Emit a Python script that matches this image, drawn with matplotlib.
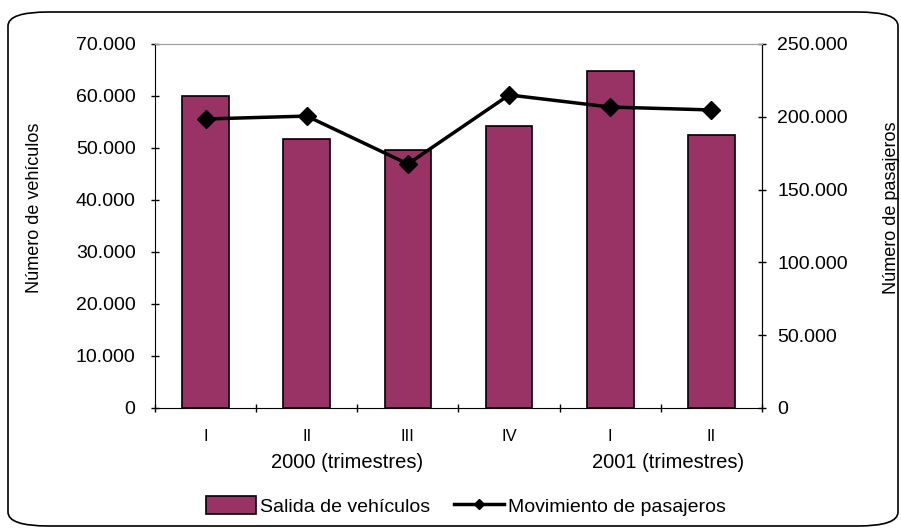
import numpy as np
import matplotlib.pyplot as plt
from matplotlib.patches import FancyBboxPatch

quarters = ["I", "II", "III", "IV", "I", "II"]
years = ["2000 (trimestres)", "2001 (trimestres)"]
vehiculos = [60000, 51700, 49600, 54200, 64800, 52500]  # salida de vehiculos
pasajeros = [198500, 200500, 167600, 215000, 206700, 204700]  # movimiento de pasajeros

plt.rcParams["font.family"] = ["Liberation Sans", "DejaVu Sans"]
bar_color = "#993366"

fig = plt.figure(figsize=(9.01, 5.28), dpi=100)
ax = fig.add_axes([155 / 901, 1 - 408 / 528, (762 - 155) / 901, (408 - 44) / 528])
ax2 = ax.twinx()

x = np.arange(len(quarters))
ax.bar(x, vehiculos, width=0.46, color=bar_color, edgecolor="black", linewidth=1.2,
       label="Salida de vehículos", zorder=2)
ax2.plot(x, pasajeros, color="black", linewidth=2.5, marker="D", markersize=9,
         label="Movimiento de pasajeros", zorder=3)

ax.set_xlim(-0.5, len(quarters) - 0.5)
ax.set_ylim(0, 70000)
ax2.set_ylim(0, 250000)
ax.set_yticks(np.arange(0, 70001, 10000))
ax2.set_yticks(np.arange(0, 250001, 50000))
fmt = lambda v: f"{int(v):,}".replace(",", ".")
ax.set_yticklabels([fmt(v) for v in ax.get_yticks()], fontsize=14)
ax2.set_yticklabels([fmt(v) for v in ax2.get_yticks()], fontsize=14)

# category boundary ticks and labels
ax.set_xticks(np.arange(-0.5, len(quarters), 1.0))
ax.set_xticklabels([])
ax.set_xticks(x, minor=True)
ax.set_xticklabels(quarters, minor=True, fontsize=12)
ax.tick_params(axis="x", which="minor", length=0, pad=15)
ax.tick_params(axis="x", which="major", length=6, direction="inout", width=1)
ax.tick_params(axis="y", length=6, direction="inout", width=1, pad=11)
ax2.tick_params(axis="y", length=6, direction="inout", width=1, pad=8)

for sp in ["left", "bottom"]:
    ax.spines[sp].set_color("black")
ax2.spines["right"].set_color("black")
ax2.spines["top"].set_color("#a0a0a0")
ax.spines["top"].set_color("#a0a0a0")
ax2.spines["left"].set_visible(False)
ax2.spines["bottom"].set_visible(False)

fig.text(35 / 901, 1 - 208 / 528, "Número de vehículos", rotation=90,
         ha="center", va="center", fontsize=13)
fig.text(892 / 901, 1 - 208 / 528, "Número de pasajeros", rotation=90,
         ha="center", va="center", fontsize=13)

fig.text(347 / 901, 1 - 463 / 528, years[0], ha="center", va="center", fontsize=14.5)
fig.text(668 / 901, 1 - 463 / 528, years[1], ha="center", va="center", fontsize=14.5)

h1, l1 = ax.get_legend_handles_labels()
h2, l2 = ax2.get_legend_handles_labels()
fig.legend(h1 + h2, l1 + l2, loc="center", bbox_to_anchor=(466 / 901, 1 - 506 / 528),
           ncol=2, frameon=False, fontsize=14, handlelength=2.6, handleheight=1.0,
           handletextpad=0.2, columnspacing=1.2, markerscale=0.6)

border = FancyBboxPatch((8 / 901, 2 / 528), 890 / 901, 514 / 528,
                        boxstyle="round,pad=0,rounding_size=0.045",
                        transform=fig.transFigure, facecolor="none",
                        edgecolor="black", linewidth=1.2, mutation_aspect=528 / 901)
fig.patches.append(border)

plt.savefig("out.png", dpi=100)
